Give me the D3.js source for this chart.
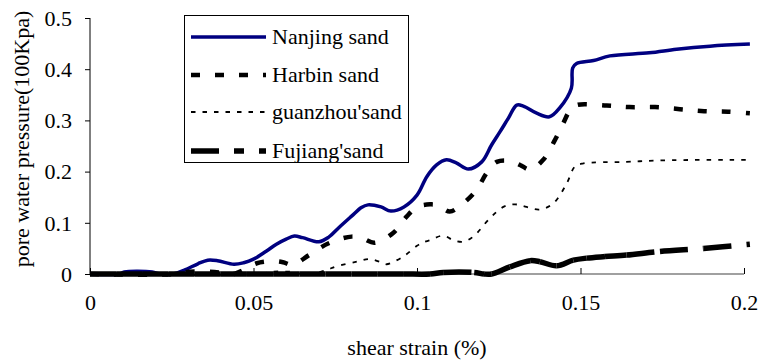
<!DOCTYPE html>
<html>
<head>
<meta charset="utf-8">
<script src="https://cdn.jsdelivr.net/npm/d3@7"></script>
<style>
  html, body { margin: 0; padding: 0; background: #fff; }
  svg text { font-family: "Liberation Serif", "DejaVu Serif", "Times New Roman", serif; fill: #000; }
</style>
</head>
<body>
<svg id="chart" width="758" height="360"></svg>
<script>
// Pore water pressure (100 kPa) against shear strain (%) for four sands.
const nanjingSand = [
  [0,0],[0.009,0],[0.0105,0.004],[0.019,0.004],[0.0215,0],[0.0255,0],[0.029,0.008],
  [0.033,0.02],[0.036,0.027],[0.039,0.026],[0.044,0.019],[0.047,0.022],[0.05,0.029],
  [0.054,0.045],[0.057,0.058],[0.06,0.068],[0.0625,0.074],[0.065,0.071],[0.07,0.063],
  [0.073,0.072],[0.076,0.09],[0.08,0.113],[0.083,0.13],[0.085,0.135],[0.089,0.131],
  [0.092,0.123],[0.096,0.131],[0.1,0.154],[0.103,0.19],[0.106,0.213],[0.109,0.223],
  [0.112,0.217],[0.1157,0.205],[0.1198,0.219],[0.1228,0.252],[0.1254,0.278],[0.128,0.305],
  [0.1305,0.33],[0.1325,0.328],[0.1366,0.314],[0.1405,0.307],[0.1437,0.325],[0.1472,0.363],
  [0.1476,0.402],[0.1488,0.411],[0.154,0.417],[0.159,0.426],[0.171,0.432],[0.1794,0.439],
  [0.1896,0.445],[0.2018,0.449]
];
const harbinSand = [
  [0,0],[0.026,0],[0.029,0.004],[0.038,0.004],[0.042,0],[0.044,0],[0.047,0.008],
  [0.051,0.021],[0.056,0.025],[0.059,0.023],[0.062,0.018],[0.067,0.037],[0.073,0.06],
  [0.08,0.073],[0.0835,0.069],[0.087,0.061],[0.0927,0.08],[0.0968,0.112],[0.1,0.131],
  [0.104,0.136],[0.1065,0.134],[0.11,0.122],[0.1141,0.138],[0.1182,0.164],[0.1213,0.197],
  [0.1244,0.219],[0.1284,0.221],[0.1315,0.213],[0.1346,0.204],[0.1386,0.223],[0.1422,0.262],
  [0.1447,0.294],[0.1468,0.32],[0.1488,0.33],[0.158,0.329],[0.165,0.326],[0.1728,0.326],
  [0.1804,0.322],[0.1878,0.318],[0.1951,0.317],[0.2018,0.314]
];
const guanzhouSand = [
  [0,0],[0.052,0],[0.055,0.004],[0.062,0.004],[0.065,0],[0.068,0],[0.0724,0.008],
  [0.0754,0.015],[0.0816,0.024],[0.0856,0.029],[0.0897,0.021],[0.0907,0.019],[0.0958,0.034],
  [0.1,0.055],[0.102,0.062],[0.104,0.066],[0.108,0.075],[0.1111,0.066],[0.1141,0.063],
  [0.1172,0.073],[0.1223,0.109],[0.1264,0.131],[0.13,0.136],[0.1335,0.131],[0.1376,0.126],
  [0.1417,0.138],[0.1458,0.177],[0.1483,0.21],[0.1509,0.216],[0.164,0.219],[0.175,0.222],
  [0.2018,0.223]
];
const fujiangSand = [
  [0,0],[0.008,0],[0.016,0],[0.024,0],[0.032,0],[0.04,0],[0.048,0],[0.056,0],[0.064,0],
  [0.072,0],[0.08,0],[0.088,0],[0.096,0],[0.104,0],[0.108,0.003],[0.1175,0.003],[0.1205,0],
  [0.1228,0],[0.1284,0.014],[0.1346,0.026],[0.1376,0.024],[0.1427,0.016],[0.1478,0.027],
  [0.1519,0.031],[0.1575,0.034],[0.1641,0.037],[0.1743,0.044],[0.1876,0.05],[0.2018,0.058]
];

const seriesNames = ["Nanjing sand", "Harbin sand", "guanzhou'sand", "Fujiang'sand"];
const xTicks = [0, 0.05, 0.1, 0.15, 0.2];
const yTicks = [0, 0.1, 0.2, 0.3, 0.4, 0.5];
const xTitle = "shear strain (%)";
const yTitle = "pore water pressure(100Kpa)";

const FONT = "Liberation Serif, DejaVu Serif, serif";
// perPoint: dash pattern starts over at each reading
const styles = [
  { color: "#000080", width: 3.5, dash: null,          perPoint: false },
  { color: "#000",    width: 4.5, dash: "9,15",        perPoint: false },
  { color: "#000",    width: 1.8, dash: "4.5,7",       perPoint: false },
  { color: "#000",    width: 5.5, dash: "28,15,10,15", perPoint: true }
];
const seriesData = [nanjingSand, harbinSand, guanzhouSand, fujiangSand];

const svg = d3.select("#chart");
const plot = { left: 90, right: 744, top: 18, bottom: 274 };

const x = d3.scaleLinear().domain([0, 0.2]).range([plot.left, plot.right]);
const y = d3.scaleLinear().domain([0, 0.5]).range([plot.bottom, plot.top]);

// Y axis: black line, ticks outward
const yAxis = svg.append("g")
  .attr("transform", `translate(${plot.left},0)`)
  .call(d3.axisLeft(y).tickValues(yTicks).tickSize(5).tickPadding(13)
    .tickFormat(d => String(+d.toFixed(2))));
yAxis.attr("font-family", FONT);
yAxis.select(".domain").attr("stroke", "#000").attr("stroke-width", 1)
  .attr("d", `M0,${plot.top}V${plot.bottom}`);
yAxis.selectAll(".tick line").attr("stroke", "#000");
yAxis.selectAll(".tick text").attr("font-size", 22).attr("dy", "0.33em");

// X axis: grey baseline, ticks pointing up
const xAxis = svg.append("g")
  .attr("transform", `translate(0,${plot.bottom})`)
  .call(d3.axisBottom(x).tickValues(xTicks).tickSize(-6).tickPadding(20)
    .tickFormat(d => String(+d.toFixed(2))));
xAxis.attr("font-family", FONT);
xAxis.select(".domain").attr("stroke", "#808080").attr("stroke-width", 1.5)
  .attr("d", `M${plot.left},0H${plot.right}`);
xAxis.selectAll(".tick line").attr("stroke", "#000");
xAxis.selectAll(".tick text").attr("font-size", 22).attr("dy", "0.71em");

// Axis titles
svg.append("text")
  .attr("x", (plot.left + plot.right) / 2)
  .attr("y", 355)
  .attr("text-anchor", "middle")
  .attr("font-size", 22)
  .text(xTitle);
svg.append("text")
  .attr("transform", "translate(29,139) rotate(-90)")
  .attr("text-anchor", "middle")
  .attr("font-size", 22)
  .text(yTitle);

// Series lines (smoothed)
const line = d3.line()
  .x(d => x(d[0]))
  .y(d => y(d[1]))
  .curve(d3.curveCatmullRom.alpha(0.5));

// Break a generated path into one sub-path per curve segment
function splitSegments(d) {
  const cmds = d.match(/[MLC][^MLC]*/g) || [];
  const out = [];
  let cur = null;
  cmds.forEach(c => {
    const nums = c.slice(1).split(/[ ,]+/).filter(s => s.length).map(Number);
    const end = [nums[nums.length - 2], nums[nums.length - 1]];
    if (c[0] !== "M" && cur) out.push(`M${cur[0]},${cur[1]}${c}`);
    cur = end;
  });
  return out;
}

seriesData.forEach((data, i) => {
  const s = styles[i];
  const g = svg.append("g")
    .attr("fill", "none")
    .attr("stroke", s.color)
    .attr("stroke-width", s.width)
    .attr("stroke-linejoin", "round");
  const pieces = s.perPoint ? splitSegments(line(data)) : [line(data)];
  g.selectAll("path")
    .data(pieces)
    .join("path")
    .attr("stroke-dasharray", s.dash)
    .attr("d", d => d);
});

// Legend
const legend = svg.append("g");
legend.append("rect")
  .attr("x", 184.5).attr("y", 15.5)
  .attr("width", 224).attr("height", 147)
  .attr("fill", "#fff").attr("stroke", "#000").attr("stroke-width", 1);
const rowY = [37, 75, 112, 151];
seriesNames.forEach((name, i) => {
  const s = styles[i];
  legend.append("line")
    .attr("x1", 191).attr("x2", 266)
    .attr("y1", rowY[i]).attr("y2", rowY[i])
    .attr("stroke", s.color)
    .attr("stroke-width", s.width)
    .attr("stroke-dasharray", s.dash);
  legend.append("text")
    .attr("x", 272).attr("y", rowY[i] + 7)
    .attr("font-family", FONT)
    .attr("font-size", 22)
    .text(name);
});
</script>
</body>
</html>
